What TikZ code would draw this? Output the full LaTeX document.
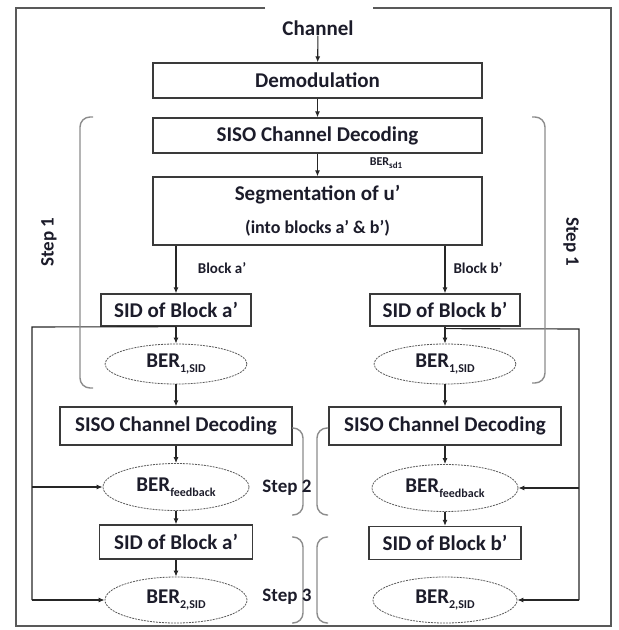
\documentclass[tikz,border=0pt]{standalone}
\usepackage{fontspec}
\setmainfont{Carlito}
\usetikzlibrary{arrows.meta,shapes.geometric}
\definecolor{ink}{HTML}{1C1C2A}
\definecolor{edge}{HTML}{3A3A3A}
\definecolor{bracket}{HTML}{8C8C8C}
\newcommand\lowsub[1]{\raisebox{-0.45ex}{\fontsize{12}{13}\selectfont #1}}
\begin{document}
\begin{tikzpicture}[x=1pt,y=-1pt,
  every node/.style={text=ink, font=\bfseries\fontsize{21}{24}\selectfont, inner sep=0pt},
  box/.style={draw=edge, line width=1.3pt, rectangle},
  berell/.style={draw=black!65, ellipse, line width=0.8pt, dash pattern=on 2pt off 1pt},
  flow/.style={draw=black!85, line width=1.1pt, -{Latex[length=6pt,width=5pt]}},
  feed/.style={draw=black!85, line width=1.1pt},
  brace/.style={draw=bracket, line width=1.4pt, rounded corners=10pt},
  small/.style={font=\bfseries\fontsize{15}{17}\selectfont},
  steplbl/.style={font=\bfseries\fontsize{19}{22}\selectfont}]
\useasboundingbox (0,0) rectangle (619,630);

% outer frame, open at the top for the channel input
\draw[draw=black!65, line width=1.4pt] (265,8) -- (16,8) -- (16,626) -- (611,626) -- (611,8) -- (373,8);

% shared chain
\node (ch) at (318,28) {Channel};
\node[box, minimum width=329pt, minimum height=35pt] (demod) at (317.5,80.5) {Demodulation};
\node[box, minimum width=329pt, minimum height=35pt] (siso1) at (317.5,135.5) {SISO Channel Decoding};
\node[box, minimum width=329pt, minimum height=68pt, align=center] (seg) at (317.5,211)
  {Segmentation of u’\\[9pt]{\fontsize{18}{20}\selectfont (into blocks a’ \& b’)}};
\node[font=\bfseries\fontsize{12}{14}\selectfont] (bersd) at (386,163) {BER\lowsub{\fontsize{9}{10}\selectfont sd1}};

% block a' column
\node[box, minimum width=150pt, minimum height=32pt] (sida) at (176,310) {SID of Block a’};
\node[berell, minimum width=142pt, minimum height=40pt] (ber1a) at (176,364) {BER\lowsub{1,SID}};
\node[box, minimum width=232pt, minimum height=38pt] (siso2a) at (176,426) {SISO Channel Decoding};
\node[berell, minimum width=146pt, minimum height=47pt] (berfa) at (176,487) {BER\lowsub{feedback}};
\node[box, minimum width=153pt, minimum height=34pt] (sida2) at (176,542) {SID of Block a’};
\node[berell, minimum width=142pt, minimum height=46pt] (ber2a) at (176,600) {BER\lowsub{2,SID}};

% block b' column
\node[box, minimum width=150pt, minimum height=32pt] (sidb) at (445,310) {SID of Block b’};
\node[berell, minimum width=142pt, minimum height=40pt] (ber1b) at (445,364) {BER\lowsub{1,SID}};
\node[box, minimum width=232pt, minimum height=38pt] (siso2b) at (445,426) {SISO Channel Decoding};
\node[berell, minimum width=146pt, minimum height=47pt] (berfb) at (445,488) {BER\lowsub{feedback}};
\node[box, minimum width=152pt, minimum height=33pt] (sidb2) at (445,543) {SID of Block b’};
\node[berell, minimum width=144pt, minimum height=46pt] (ber2b) at (445,600) {BER\lowsub{2,SID}};

% block labels on the split
\node[small] (lbla) at (222,268) {Block a’};
\node[small] (lblb) at (478,268) {Block b’};

% main flow
\draw[flow] (ch) -- (demod);
\draw[flow] (demod) -- (siso1);
\draw[flow] (siso1) -- (seg);
\draw[flow] (sida.north |- seg.south) -- (sida);
\draw[flow] (sidb.north |- seg.south) -- (sidb);
\draw[flow] (sida) -- (ber1a);
\draw[flow] (ber1a) -- (siso2a);
\draw[flow] (siso2a) -- (berfa);
\draw[flow] (berfa) -- (sida2);
\draw[flow] (sida2) -- (ber2a);
\draw[flow] (sidb) -- (ber1b);
\draw[flow] (ber1b) -- (siso2b);
\draw[flow] (siso2b) -- (berfb);
\draw[flow] (berfb) -- (sidb2);

% feedback paths
\coordinate (fbL) at (32,327);
\coordinate (fbR) at (579,329);
\draw[feed] (sida.south) -- (fbL) -- (fbL |- ber2a.west);
\draw[flow] (fbL |- berfa.west) -- (berfa.west);
\draw[flow] (fbL |- ber2a.west) -- (ber2a.west);
\draw[feed] (sidb.south) ++(0,2) -- (fbR) -- (fbR |- ber2b.east);
\draw[flow] (fbR |- berfb.east) -- (berfb.east);
\draw[flow] (fbR |- ber2b.east) -- (ber2b.east);

% step brackets
\draw[brace] (93,117) -- (80,117) -- (80,388) -- (93,388);
\draw[brace] (532,117) -- (545,117) -- (545,383) -- (532,383);
\draw[brace] (292,428) -- (303,428) -- (303,515) -- (292,515);
\draw[brace] (328,428) -- (317,428) -- (317,515) -- (328,515);
\draw[brace] (292,537) -- (303,537) -- (303,623) -- (292,623);
\draw[brace] (328,537) -- (317,537) -- (317,623) -- (328,623);

% step labels
\node[steplbl, rotate=90] (s1l) at (49,242) {Step 1};
\node[steplbl, rotate=-90] (s1r) at (571,242) {Step 1};
\node[steplbl] (s2) at (287,488) {Step 2};
\node[steplbl] (s3) at (287,597) {Step 3};
\end{tikzpicture}
\end{document}
